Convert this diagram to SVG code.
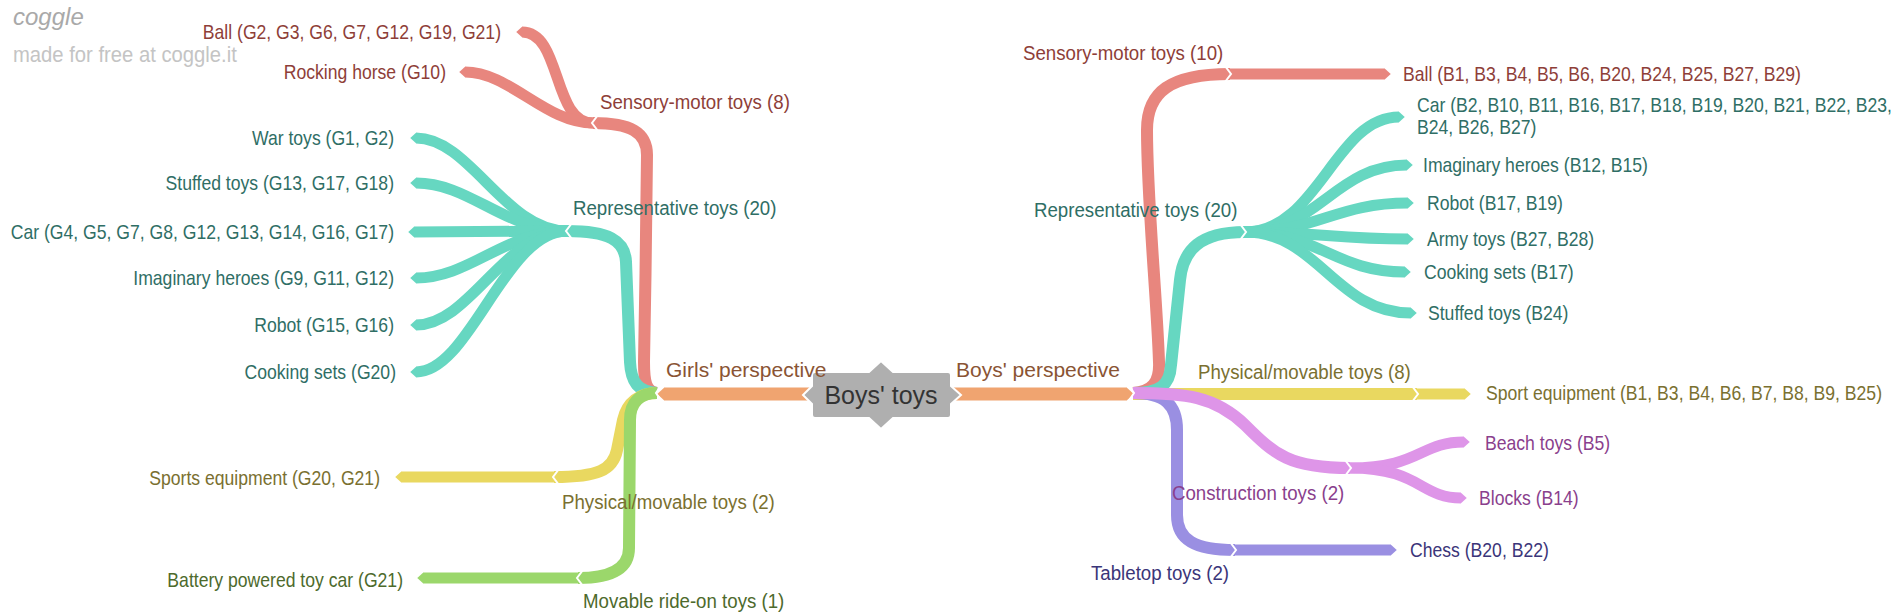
<svg xmlns="http://www.w3.org/2000/svg" width="1902" height="613" viewBox="0 0 1902 613">
<style>
.br{fill:none;stroke-linecap:butt;stroke-linejoin:round}
.l1{stroke-width:12}
.lf{stroke-width:11}
.red{stroke:#e8867e}.teal{stroke:#66d7c1}.yel{stroke:#e9d860}.grn{stroke:#9bd76b}.pur{stroke:#9a8fe2}.pnk{stroke:#de95e8}.org{stroke:#f0a470}
.chev{fill:none;stroke:#fff;stroke-width:2;stroke-linejoin:miter}
text{font-family:"Liberation Sans",Arial,sans-serif}
.t0{font-size:21px}
.t1{font-size:21px}
.t2{font-size:20px}
.e{text-anchor:end}
.cr{fill:#8e3e38}.ct{fill:#2f6e65}.cy{fill:#7a7030}.cg{fill:#4d6a2c}.cp{fill:#3b3579}.ck{fill:#8a3f8d}.co{fill:#8a5434}
</style>
<defs>
<marker id="mr" viewBox="0 0 10 10" refX="0.5" refY="5" markerWidth="0.55" markerHeight="1" orient="auto" markerUnits="strokeWidth" preserveAspectRatio="none"><path d="M0,0L10,5L0,10z" fill="#e8867e"/></marker>
<marker id="mt" viewBox="0 0 10 10" refX="0.5" refY="5" markerWidth="0.55" markerHeight="1" orient="auto" markerUnits="strokeWidth" preserveAspectRatio="none"><path d="M0,0L10,5L0,10z" fill="#66d7c1"/></marker>
<marker id="my" viewBox="0 0 10 10" refX="0.5" refY="5" markerWidth="0.55" markerHeight="1" orient="auto" markerUnits="strokeWidth" preserveAspectRatio="none"><path d="M0,0L10,5L0,10z" fill="#e9d860"/></marker>
<marker id="mg" viewBox="0 0 10 10" refX="0.5" refY="5" markerWidth="0.55" markerHeight="1" orient="auto" markerUnits="strokeWidth" preserveAspectRatio="none"><path d="M0,0L10,5L0,10z" fill="#9bd76b"/></marker>
<marker id="mp" viewBox="0 0 10 10" refX="0.5" refY="5" markerWidth="0.55" markerHeight="1" orient="auto" markerUnits="strokeWidth" preserveAspectRatio="none"><path d="M0,0L10,5L0,10z" fill="#9a8fe2"/></marker>
<marker id="mk" viewBox="0 0 10 10" refX="0.5" refY="5" markerWidth="0.55" markerHeight="1" orient="auto" markerUnits="strokeWidth" preserveAspectRatio="none"><path d="M0,0L10,5L0,10z" fill="#de95e8"/></marker>
<marker id="mo" viewBox="0 0 10 10" refX="0.5" refY="5" markerWidth="0.55" markerHeight="1" orient="auto" markerUnits="strokeWidth" preserveAspectRatio="none"><path d="M0,0L10,5L0,10z" fill="#f0a470"/></marker>
</defs>
<rect width="1902" height="613" fill="#fff"/>
<g id="watermark">
<text x="13" y="25" font-family="Lato, sans-serif" font-style="italic" font-size="24" fill="#a9a9a9">coggle</text>
<text transform="translate(13,62) scale(0.9,1)" font-size="22.5" fill="#c4c4c4">made for free at coggle.it</text>
</g>
<g id="connectors">
<path class="br l1 red" d="M657,393 C646,392 644,382 644,362 C645,300 647,200 647,155 C647,132 630,123 593,123"/>
<path class="br lf red" marker-end="url(#mr)" d="M593,123 C552,123 562,32 522,32"/>
<path class="br lf red" marker-end="url(#mr)" d="M593,123 C545,123 510,72 465,72"/>
<path class="br l1 teal" d="M657,393 C638,392 631,382 630,362 L626,262 C625,240 608,231 567,231"/>
<path class="br lf teal" marker-end="url(#mt)" d="M567,231 C505,231 470,138 416,138"/>
<path class="br lf teal" marker-end="url(#mt)" d="M567,231 C505,231 470,183 416,183"/>
<path class="br lf teal" marker-end="url(#mt)" d="M567,231 L414,232"/>
<path class="br lf teal" marker-end="url(#mt)" d="M567,231 C505,231 470,278 416,278"/>
<path class="br lf teal" marker-end="url(#mt)" d="M567,231 C505,231 470,325 416,325"/>
<path class="br lf teal" marker-end="url(#mt)" d="M567,231 C505,231 470,372 416,372"/>
<path class="br l1 yel" d="M657,393 C640,393 627,402 623,420 L617,450 C613,470 598,477 554,477"/>
<path class="br lf yel" marker-end="url(#my)" d="M554,477 L401,477"/>
<path class="br l1 grn" d="M657,393 C640,393 630,402 630,420 L629,548 C629,568 612,578 578,578"/>
<path class="br lf grn" marker-end="url(#mg)" d="M578,578 L423,578"/>
<path class="br l1 red" d="M1133,393 C1152,392 1160,382 1159,362 C1157,300 1147,200 1147,130 C1147,92 1170,74 1230,74"/>
<path class="br lf red" marker-end="url(#mr)" d="M1230,74 L1385,74"/>
<path class="br l1 teal" d="M1133,393 C1160,393 1170,385 1171,365 L1180,280 C1183,250 1200,232 1245,232"/>
<path class="br lf teal" marker-end="url(#mt)" d="M1245,232 C1318,232 1335,117 1399,117"/>
<path class="br lf teal" marker-end="url(#mt)" d="M1245,232 C1318,232 1335,165 1407,165"/>
<path class="br lf teal" marker-end="url(#mt)" d="M1245,232 C1318,232 1335,203 1408,203"/>
<path class="br lf teal" marker-end="url(#mt)" d="M1245,232 C1318,232 1335,239 1408,239"/>
<path class="br lf teal" marker-end="url(#mt)" d="M1245,232 C1318,232 1335,272 1405,272"/>
<path class="br lf teal" marker-end="url(#mt)" d="M1245,232 C1318,232 1335,313 1411,313"/>
<path class="br l1 yel" d="M1133,394 L1417,394"/>
<path class="br lf yel" marker-end="url(#my)" d="M1417,394 L1465,394"/>
<path class="br l1 pur" d="M1133,393 C1165,393 1177,405 1177,430 L1177,515 C1177,540 1195,550 1235,550"/>
<path class="br lf pur" marker-end="url(#mp)" d="M1235,550 L1391,550"/>
<path class="br l1 pnk" d="M1133,393 C1185,393 1215,396 1245,425 C1275,455 1290,468 1350,468"/>
<path class="br lf pnk" marker-end="url(#mk)" d="M1350,468 C1420,468 1420,442 1464,442"/>
<path class="br lf pnk" marker-end="url(#mk)" d="M1350,468 C1420,468 1420,498 1461,498"/>
<path class="br l1 org" style="stroke-width:13" marker-end="url(#mo)" d="M815,394 L664,394"/>
<path class="br l1 org" style="stroke-width:13" marker-end="url(#mo)" d="M948,394 L1127,394"/>
<polyline class="chev" points="662,384 656,393 662,402"/>
<polyline class="chev" points="598,115 592,123 598,131"/>
<polyline class="chev" points="572,223 566,231 572,239"/>
<polyline class="chev" points="559,469 553,477 559,485"/>
<polyline class="chev" points="583,570 577,578 583,586"/>
<polyline class="chev" points="1128,384 1134,393 1128,402"/>
<polyline class="chev" points="1225,66 1231,74 1225,82"/>
<polyline class="chev" points="1240,224 1246,232 1240,240"/>
<polyline class="chev" points="1412,386 1418,394 1412,402"/>
<polyline class="chev" points="1345,460 1351,468 1345,476"/>
<polyline class="chev" points="1230,542 1236,550 1230,558"/>
</g>
<g id="root">
<path d="M815,372 L869,372 L881,361 L893,372 L948,372 Q951,372 951,375 L951,386 L961,395 L951,404 L951,415 Q951,418 948,418 L893,418 L881,429 L869,418 L815,418 Q812,418 812,415 L812,404 L803,395 L812,386 L812,375 Q812,372 815,372 Z" fill="#afafaf" stroke="#fff" stroke-width="2"/>
<text x="881" y="404" font-size="25" fill="#333" text-anchor="middle">Boys' toys</text>
</g>
<g id="girls"><text class="t0 co" x="666" y="377">Girls' perspective</text></g>
<g id="boys"><text class="t0 co" x="956" y="377">Boys' perspective</text></g>
<g id="g-sensory"><text class="t1 cr" transform="translate(600,109) scale(0.89,1)">Sensory-motor toys (8)</text></g>
<g id="g-ball"><text class="t2 cr e" transform="translate(501,39) scale(0.88,1)">Ball (G2, G3, G6, G7, G12, G19, G21)</text></g>
<g id="g-rocking"><text class="t2 cr e" transform="translate(446,79) scale(0.88,1)">Rocking horse (G10)</text></g>
<g id="g-rep"><text class="t1 ct" transform="translate(573,215) scale(0.89,1)">Representative toys (20)</text></g>
<g id="g-war"><text class="t2 ct e" transform="translate(394,145) scale(0.88,1)">War toys (G1, G2)</text></g>
<g id="g-stuffed"><text class="t2 ct e" transform="translate(394,190) scale(0.88,1)">Stuffed toys (G13, G17, G18)</text></g>
<g id="g-car"><text class="t2 ct e" transform="translate(394,239) scale(0.88,1)">Car (G4, G5, G7, G8, G12, G13, G14, G16, G17)</text></g>
<g id="g-heroes"><text class="t2 ct e" transform="translate(394,285) scale(0.88,1)">Imaginary heroes (G9, G11, G12)</text></g>
<g id="g-robot"><text class="t2 ct e" transform="translate(394,332) scale(0.88,1)">Robot (G15, G16)</text></g>
<g id="g-cooking"><text class="t2 ct e" transform="translate(396,379) scale(0.88,1)">Cooking sets (G20)</text></g>
<g id="g-physical"><text class="t1 cy" transform="translate(562,509) scale(0.89,1)">Physical/movable toys (2)</text></g>
<g id="g-sports"><text class="t2 cy e" transform="translate(380,485) scale(0.88,1)">Sports equipment (G20, G21)</text></g>
<g id="g-rideon"><text class="t1 cg" transform="translate(583,608) scale(0.89,1)">Movable ride-on toys (1)</text></g>
<g id="g-battery"><text class="t2 cg e" transform="translate(403,587) scale(0.88,1)">Battery powered toy car (G21)</text></g>
<g id="b-sensory"><text class="t1 cr" transform="translate(1023,60) scale(0.89,1)">Sensory-motor toys (10)</text></g>
<g id="b-ball"><text class="t2 cr" transform="translate(1403,81) scale(0.88,1)">Ball (B1, B3, B4, B5, B6, B20, B24, B25, B27, B29)</text></g>
<g id="b-rep"><text class="t1 ct" transform="translate(1034,217) scale(0.89,1)">Representative toys (20)</text></g>
<g id="b-car"><text class="t2 ct" transform="translate(1417,112) scale(0.88,1)">Car (B2, B10, B11, B16, B17, B18, B19, B20, B21, B22, B23,<tspan x="0" dy="22">B24, B26, B27)</tspan></text></g>
<g id="b-heroes"><text class="t2 ct" transform="translate(1423,172) scale(0.88,1)">Imaginary heroes (B12, B15)</text></g>
<g id="b-robot"><text class="t2 ct" transform="translate(1427,210) scale(0.88,1)">Robot (B17, B19)</text></g>
<g id="b-army"><text class="t2 ct" transform="translate(1427,246) scale(0.88,1)">Army toys (B27, B28)</text></g>
<g id="b-cooking"><text class="t2 ct" transform="translate(1424,279) scale(0.88,1)">Cooking sets (B17)</text></g>
<g id="b-stuffed"><text class="t2 ct" transform="translate(1428,320) scale(0.88,1)">Stuffed toys (B24)</text></g>
<g id="b-physical"><text class="t1 cy" transform="translate(1198,379) scale(0.89,1)">Physical/movable toys (8)</text></g>
<g id="b-sport"><text class="t2 cy" transform="translate(1486,400) scale(0.88,1)">Sport equipment (B1, B3, B4, B6, B7, B8, B9, B25)</text></g>
<g id="b-construction"><text class="t1 ck" transform="translate(1172,500) scale(0.89,1)">Construction toys (2)</text></g>
<g id="b-beach"><text class="t2 ck" transform="translate(1485,450) scale(0.88,1)">Beach toys (B5)</text></g>
<g id="b-blocks"><text class="t2 ck" transform="translate(1479,505) scale(0.88,1)">Blocks (B14)</text></g>
<g id="b-tabletop"><text class="t1 cp" transform="translate(1091,580) scale(0.89,1)">Tabletop toys (2)</text></g>
<g id="b-chess"><text class="t2 cp" transform="translate(1410,557) scale(0.88,1)">Chess (B20, B22)</text></g>
</svg>
